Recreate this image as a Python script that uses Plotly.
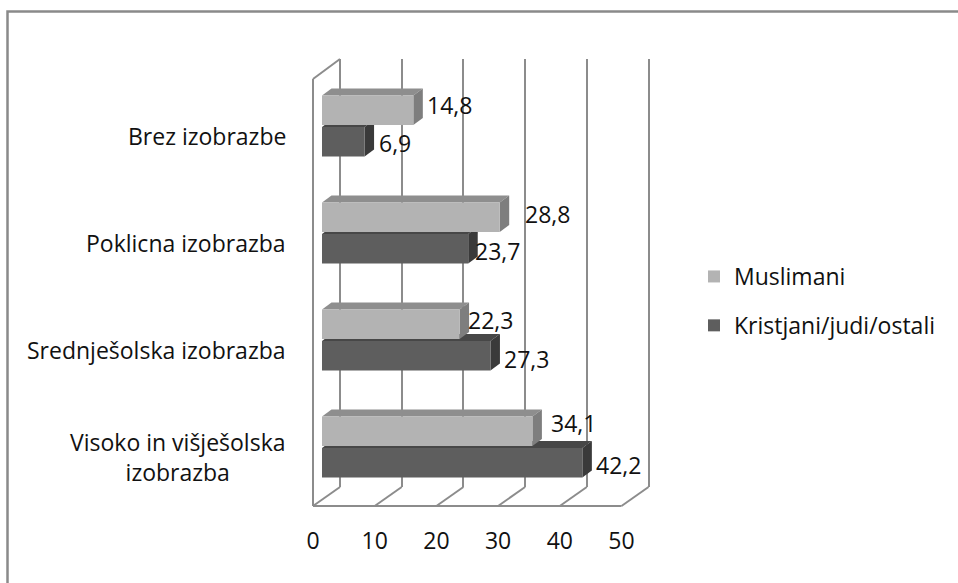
import plotly.graph_objects as go

# ---------------- data ----------------
categories = [
    "Brez izobrazbe",
    "Poklicna izobrazba",
    "Srednješolska izobrazba",
    "Visoko in višješolska<br>izobrazba",
]
series_names = ["Muslimani", "Kristjani/judi/ostali"]
muslimani = [14.8, 28.8, 22.3, 34.1]
kristjani = [6.9, 23.7, 27.3, 42.2]
x_ticks = [0, 10, 20, 30, 40, 50]

# ---------------- geometry (pixels) ----------------
W, H = 958, 583
PX_PER_UNIT = 6.17
BAR_ZERO = 322      # value 0 on the bar front faces
BACK_ZERO = 340     # value 0 on the back wall
FRONT_ZERO = 313    # value 0 on the front edge of the floor
PLOT_LEFT, PLOT_RIGHT = 300, 700
WALL_TOP, BACK_FLOOR, FRONT_FLOOR, SIDE_TOP = 59, 487, 506, 79
ROW0, ROW_STEP = 126, 107          # pixel row of first category, spacing
BAR_DX_PX, BAR_DY_PX = 9.5, 7      # oblique depth of each bar
BAR_W = 0.275
M_OFF, K_OFF = -0.285, 0.01        # bar offsets within a category

DXU = BAR_DX_PX / PX_PER_UNIT
DYU = BAR_DY_PX / ROW_STEP
DEPTH_X = BACK_ZERO - FRONT_ZERO

FONT = "Open Sans"
FS = 23
TXT = "#111111"
GRID = "#8c8c8c"
M_COLORS = dict(front="#b3b3b3", top="#8e8e8e", side="#7e7e7e")
K_COLORS = dict(front="#5e5e5e", top="#474747", side="#3a3a3a")

# per-label nudges (px): right of bar end, upward
M_NUDGE = [(14, 5.5), (25, 3), (8, 4.5), (19, 8)]
K_NUDGE = [(14, -1.5), (7, -2), (13.5, -3), (13.5, -2.5)]


def xrange_for(zero):
    return [(PLOT_LEFT - zero) / PX_PER_UNIT, (PLOT_RIGHT - zero) / PX_PER_UNIT]


def py(p):
    return 1 - p / H


def fmt(v):
    return f"{v:.1f}".replace(".", ",")


ypos = list(range(len(categories)))

fig = go.Figure()

# front faces of the bars
for name, vals, off, col in [
    (series_names[0], muslimani, M_OFF, M_COLORS),
    (series_names[1], kristjani, K_OFF, K_COLORS),
]:
    fig.add_trace(go.Bar(
        name=name, y=ypos, x=vals, orientation="h",
        width=BAR_W, offset=off, base=0,
        marker=dict(color=col["front"], line=dict(width=0)),
        legendgroup=name, hoverinfo="skip",
    ))

# empty traces so the overlay axes get their own subplots
fig.add_trace(go.Scatter(x=[], y=[], xaxis="x2", yaxis="y", showlegend=False))
fig.add_trace(go.Scatter(x=[], y=[], xaxis="x3", yaxis="y", showlegend=False))

shapes = []


def faces(vals, off, col):
    out = []
    for i, v in enumerate(vals):
        top = i + off
        bot = top + BAR_W
        out.append(dict(
            type="path", xref="x", yref="y", layer="between",
            path=f"M 0,{top} L {v},{top} L {v + DXU},{top - DYU} L {DXU},{top - DYU} Z",
            fillcolor=col["top"], line=dict(width=0),
        ))
        out.append(dict(
            type="path", xref="x", yref="y", layer="between",
            path=f"M {v},{top} L {v + DXU},{top - DYU} L {v + DXU},{bot - DYU} L {v},{bot} Z",
            fillcolor=col["side"], line=dict(width=0),
        ))
    return out


shapes += faces(kristjani, K_OFF, K_COLORS)
shapes += faces(muslimani, M_OFF, M_COLORS)

# left wall and floor outline
wall = dict(color=GRID, width=2)
shapes.append(dict(type="line", xref="x3", yref="paper", x0=0, x1=0,
                   y0=py(FRONT_FLOOR), y1=py(SIDE_TOP), line=wall, layer="below"))
shapes.append(dict(type="line", xref="x3", yref="paper", xsizemode="pixel", xanchor=0,
                   x0=0, x1=DEPTH_X, y0=py(SIDE_TOP), y1=py(WALL_TOP), line=wall, layer="below"))
shapes.append(dict(type="line", xref="x3", yref="paper", x0=x_ticks[0], x1=x_ticks[-1],
                   y0=py(FRONT_FLOOR), y1=py(FRONT_FLOOR), line=wall, layer="below"))
for t in x_ticks:
    shapes.append(dict(type="line", xref="x3", yref="paper", xsizemode="pixel", xanchor=t,
                       x0=0, x1=DEPTH_X, y0=py(FRONT_FLOOR), y1=py(BACK_FLOOR),
                       line=wall, layer="below"))

# outer chart frame
shapes.append(dict(type="rect", xref="paper", yref="paper",
                   x0=7.5 / W, x1=1.05, y0=-0.05, y1=py(11.5),
                   line=dict(color="#8a8a8a", width=2.5), layer="below"))

annotations = []
for i, (v, (dx, dy)) in enumerate(zip(muslimani, M_NUDGE)):
    annotations.append(dict(x=v, y=i + M_OFF + BAR_W / 2, xref="x", yref="y",
                            text=fmt(v), showarrow=False, xanchor="left",
                            xshift=dx - 2, yshift=dy,
                            font=dict(family=FONT, size=FS, color=TXT)))
for i, (v, (dx, dy)) in enumerate(zip(kristjani, K_NUDGE)):
    annotations.append(dict(x=v, y=i + K_OFF + BAR_W / 2, xref="x", yref="y",
                            text=fmt(v), showarrow=False, xanchor="left",
                            xshift=dx - 2, yshift=dy,
                            font=dict(family=FONT, size=FS, color=TXT)))
for i, c in enumerate(categories):
    annotations.append(dict(x=288 / W, y=i, xref="paper", yref="y", text=c,
                            showarrow=False, xanchor="right", align="center",
                            yshift=-9.5, font=dict(family=FONT, size=FS, color=TXT)))

fig.update_layout(
    width=W, height=H,
    margin=dict(l=0, r=0, t=0, b=0),
    paper_bgcolor="white", plot_bgcolor="rgba(0,0,0,0)",
    barmode="overlay",
    font=dict(family=FONT, size=FS, color=TXT),
    xaxis=dict(domain=[PLOT_LEFT / W, PLOT_RIGHT / W], range=xrange_for(BAR_ZERO),
               visible=False, fixedrange=True),
    xaxis2=dict(overlaying="x", anchor="y", range=xrange_for(BACK_ZERO),
                tickvals=x_ticks, showgrid=True, gridcolor=GRID, gridwidth=2,
                zeroline=False, showticklabels=False, ticks="", showline=False),
    xaxis3=dict(overlaying="x", anchor="free", position=py(FRONT_FLOOR + 19),
                range=xrange_for(FRONT_ZERO), tickvals=x_ticks, ticktext=[str(t) for t in x_ticks],
                showgrid=False, zeroline=False, ticks="", showline=False,
                tickfont=dict(family=FONT, size=FS, color=TXT)),
    yaxis=dict(domain=[py(BACK_FLOOR), py(WALL_TOP)],
               range=[(BACK_FLOOR - ROW0) / ROW_STEP, (WALL_TOP - ROW0) / ROW_STEP],
               visible=False, fixedrange=True),
    legend=dict(x=694 / W, y=py(301), xanchor="left", yanchor="middle",
                font=dict(family=FONT, size=FS, color=TXT), traceorder="grouped",
                tracegroupgap=16, bgcolor="rgba(0,0,0,0)"),
    shapes=shapes,
    annotations=annotations,
    showlegend=True,
)

fig.write_html("out.html")
